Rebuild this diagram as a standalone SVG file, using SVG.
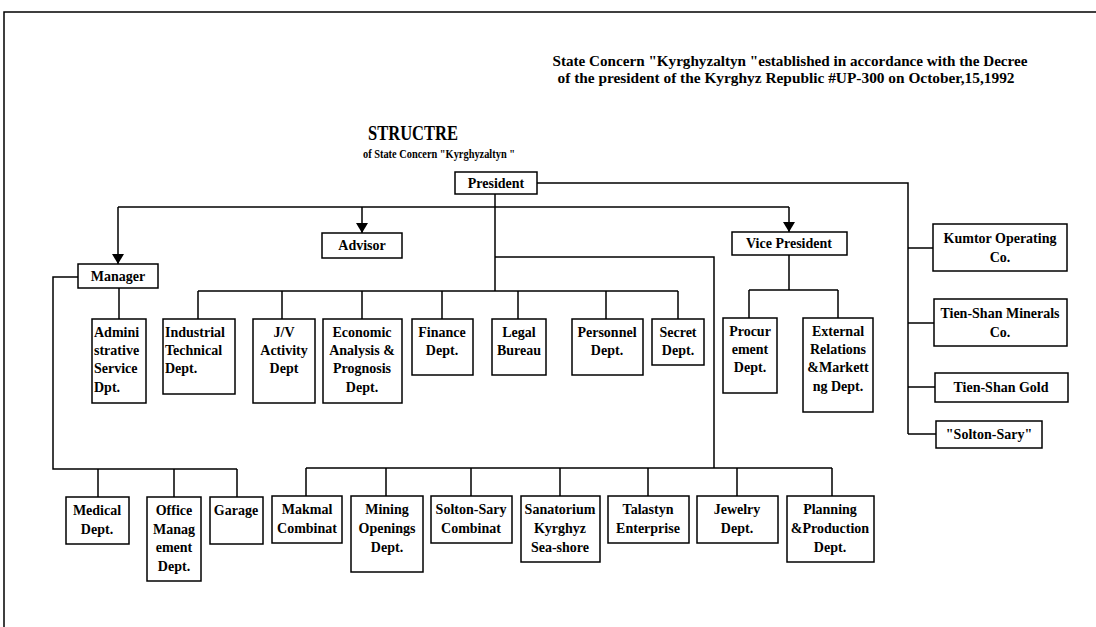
<svg xmlns="http://www.w3.org/2000/svg" width="1096" height="627" viewBox="0 0 1096 627">
<style>
.bx{fill:#fff;stroke:#000;stroke-width:1.5}
.ln{fill:none;stroke:#000;stroke-width:1.5}
text{font-family:"Liberation Serif","Times New Roman",serif;font-weight:bold;font-size:14px;fill:#000}
.c{text-anchor:middle}
</style>
<defs>
<marker id="ar" viewBox="0 0 10 12" refX="10" refY="6" markerWidth="12" markerHeight="12" markerUnits="userSpaceOnUse" orient="auto">
<path d="M0,0 L10,6 L0,12 Z" fill="#000"/>
</marker>
</defs>
<rect width="1096" height="627" fill="#fff"/>
<g id="frame">
<path class="ln" d="M4,627 V12 H1096" stroke-width="2"/>
</g>
<g id="header">
<text class="c" x="790" y="66" textLength="475" lengthAdjust="spacingAndGlyphs">State Concern "Kyrghyzaltyn "established in accordance with the Decree</text>
<text class="c" x="786" y="83" textLength="457" lengthAdjust="spacingAndGlyphs">of the president of the Kyrghyz Republic #UP-300 on October,15,1992</text>
<text class="c" x="413" y="140" style="font-size:20px" textLength="90" lengthAdjust="spacingAndGlyphs">STRUCTRE</text>
<text class="c" x="439" y="158" style="font-size:12.5px" textLength="152" lengthAdjust="spacingAndGlyphs">of State Concern "Kyrghyzaltyn "</text>
</g>
<g id="connectors">
<path class="ln" d="M537,183 H908 V434"/>
<path class="ln" d="M908,248 H933 M908,323 H934 M908,387 H935 M908,434 H936"/>
<path class="ln" d="M495,194 V291"/>
<path class="ln" d="M118,207 H789"/>
<path class="ln" d="M118,207 V264" marker-end="url(#ar)"/>
<path class="ln" d="M362,207 V233" marker-end="url(#ar)"/>
<path class="ln" d="M789,207 V232" marker-end="url(#ar)"/>
<path class="ln" d="M495,257 H714 V468"/>
<path class="ln" d="M198,291 H678 M198,291 V319 M282,291 V319 M362,291 V319 M442,291 V319 M518,291 V319 M606,291 V319 M678,291 V319"/>
<path class="ln" d="M119,288 V319"/>
<path class="ln" d="M789,255 V290 M749,290 H838 M749,290 V318 M838,290 V318"/>
<path class="ln" d="M78,277 H53 V469 H237 M98,469 V497 M174,469 V497 M237,469 V497"/>
<path class="ln" d="M306,468 H832 M306,468 V496 M386,468 V496 M471,468 V496 M560,468 V496 M648,468 V496 M737,468 V496 M832,468 V496"/>
</g>
<g id="president"><rect class="bx" x="455" y="172" width="82" height="22"/><text class="c" x="496" y="188">President</text></g>
<g id="advisor"><rect class="bx" x="322" y="233" width="80" height="25"/><text class="c" x="362" y="250">Advisor</text></g>
<g id="manager"><rect class="bx" x="78" y="264" width="80" height="24"/><text class="c" x="118" y="281">Manager</text></g>
<g id="vice-president"><rect class="bx" x="732" y="232" width="115" height="23"/><text class="c" x="789" y="248">Vice President</text></g>
<g id="admin"><rect class="bx" x="92" y="319" width="54" height="84"/><text x="94" y="337">Admini</text><text x="94" y="355">strative</text><text x="94" y="373">Service</text><text x="94" y="392">Dpt.</text></g>
<g id="industrial"><rect class="bx" x="163" y="319" width="72" height="75"/><text x="165" y="337">Industrial</text><text x="165" y="355">Technical</text><text x="165" y="373">Dept.</text></g>
<g id="jv"><rect class="bx" x="253" y="319" width="62" height="84"/><text class="c" x="284" y="337">J/V</text><text class="c" x="284" y="355">Activity</text><text class="c" x="284" y="373">Dept</text></g>
<g id="economic"><rect class="bx" x="323" y="319" width="79" height="84"/><text class="c" x="362" y="337">Economic</text><text class="c" x="362" y="355">Analysis &amp;</text><text class="c" x="362" y="373">Prognosis</text><text class="c" x="362" y="392">Dept.</text></g>
<g id="finance"><rect class="bx" x="412" y="319" width="61" height="56"/><text class="c" x="442" y="337">Finance</text><text class="c" x="442" y="355">Dept.</text></g>
<g id="legal"><rect class="bx" x="492" y="319" width="54" height="56"/><text class="c" x="519" y="337">Legal</text><text class="c" x="519" y="355">Bureau</text></g>
<g id="personnel"><rect class="bx" x="572" y="319" width="71" height="56"/><text class="c" x="607" y="337">Personnel</text><text class="c" x="607" y="355">Dept.</text></g>
<g id="secret"><rect class="bx" x="652" y="319" width="52" height="46"/><text class="c" x="678" y="337">Secret</text><text class="c" x="678" y="355">Dept.</text></g>
<g id="procurement"><rect class="bx" x="723" y="318" width="54" height="75"/><text class="c" x="750" y="336">Procur</text><text class="c" x="750" y="354">ement</text><text class="c" x="750" y="372">Dept.</text></g>
<g id="external"><rect class="bx" x="803" y="318" width="70" height="94"/><text class="c" x="838" y="336">External</text><text class="c" x="838" y="354">Relations</text><text class="c" x="838" y="372">&amp;Markett</text><text class="c" x="838" y="391">ng Dept.</text></g>
<g id="kumtor"><rect class="bx" x="933" y="224" width="134" height="47"/><text class="c" x="1000" y="243">Kumtor Operating</text><text class="c" x="1000" y="262">Co.</text></g>
<g id="tien-shan-minerals"><rect class="bx" x="934" y="299" width="133" height="47"/><text class="c" x="1000" y="318">Tien-Shan Minerals</text><text class="c" x="1000" y="337">Co.</text></g>
<g id="tien-shan-gold"><rect class="bx" x="935" y="373" width="133" height="29"/><text class="c" x="1001" y="392">Tien-Shan Gold</text></g>
<g id="solton-sary"><rect class="bx" x="936" y="421" width="106" height="27"/><text class="c" x="989" y="439">"Solton-Sary"</text></g>
<g id="medical"><rect class="bx" x="66" y="497" width="63" height="47"/><text class="c" x="97" y="515">Medical</text><text class="c" x="97" y="534">Dept.</text></g>
<g id="office"><rect class="bx" x="147" y="497" width="54" height="84"/><text class="c" x="174" y="515">Office</text><text class="c" x="174" y="534">Manag</text><text class="c" x="174" y="552">ement</text><text class="c" x="174" y="571">Dept.</text></g>
<g id="garage"><rect class="bx" x="210" y="497" width="53" height="47"/><text class="c" x="236" y="515">Garage</text></g>
<g id="makmal"><rect class="bx" x="272" y="496" width="70" height="47"/><text class="c" x="307" y="514">Makmal</text><text class="c" x="307" y="533">Combinat</text></g>
<g id="mining"><rect class="bx" x="351" y="496" width="72" height="76"/><text class="c" x="387" y="514">Mining</text><text class="c" x="387" y="533">Openings</text><text class="c" x="387" y="552">Dept.</text></g>
<g id="solton-sary-combinat"><rect class="bx" x="431" y="496" width="81" height="47"/><text class="c" x="471" y="514">Solton-Sary</text><text class="c" x="471" y="533">Combinat</text></g>
<g id="sanatorium"><rect class="bx" x="521" y="496" width="79" height="66"/><text class="c" x="560" y="514">Sanatorium</text><text class="c" x="560" y="533">Kyrghyz</text><text class="c" x="560" y="552">Sea-shore</text></g>
<g id="talastyn"><rect class="bx" x="608" y="496" width="81" height="47"/><text class="c" x="648" y="514">Talastyn</text><text class="c" x="648" y="533">Enterprise</text></g>
<g id="jewelry"><rect class="bx" x="697" y="496" width="81" height="47"/><text class="c" x="737" y="514">Jewelry</text><text class="c" x="737" y="533">Dept.</text></g>
<g id="planning"><rect class="bx" x="787" y="496" width="87" height="66"/><text class="c" x="830" y="514">Planning</text><text class="c" x="830" y="533">&amp;Production</text><text class="c" x="830" y="552">Dept.</text></g>
</svg>
